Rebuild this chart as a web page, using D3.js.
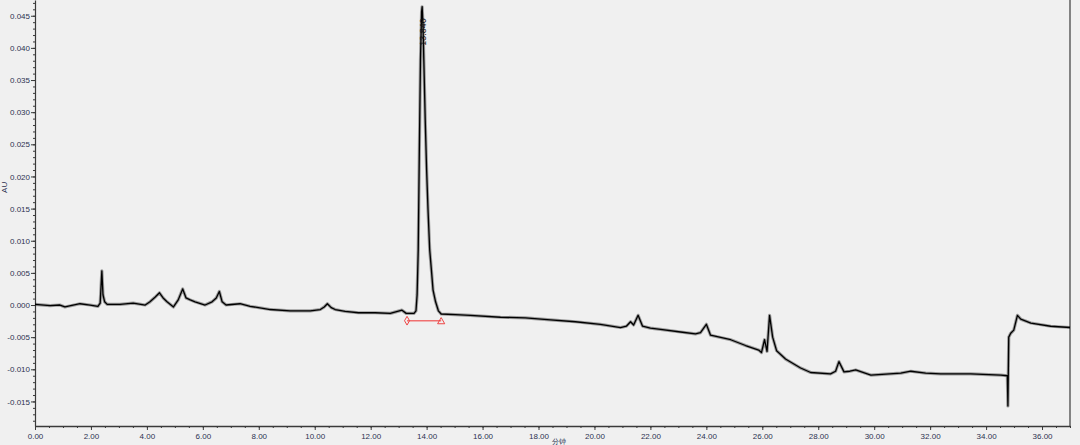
<!DOCTYPE html>
<html>
<head>
<meta charset="utf-8">
<script src="https://cdn.jsdelivr.net/npm/d3@7"></script>
<style>
  html, body { margin: 0; padding: 0; background: #f0f0f0; }
  svg { display: block; }
  text { font-family: "Liberation Sans", Arial, sans-serif; }
</style>
</head>
<body>
<svg id="chart" width="1080" height="445"></svg>
<script>
// ---- data ----
const timeMin = [
  0.00, 0.54, 0.89, 1.07, 1.61, 1.97, 2.25, 2.33, 2.39, 2.43, 2.49, 2.58,
  3.04, 3.51, 3.94, 4.11, 4.29, 4.45, 4.58, 4.72, 4.95, 5.12, 5.28, 5.40,
  5.55, 5.72, 6.08, 6.33, 6.48, 6.59, 6.69, 6.83, 7.33, 7.69, 8.41, 9.12,
  9.84, 10.20, 10.34, 10.45, 10.59, 10.73, 11.09, 11.56, 12.16, 12.70, 13.12, 13.27,
  13.55, 13.62, 13.66, 13.70, 13.74, 13.78, 13.82, 13.84, 13.87, 13.90, 13.95, 14.00,
  14.05, 14.11, 14.17, 14.23, 14.32, 14.42, 14.52, 15.03, 15.56, 16.64, 17.53, 18.43,
  19.32, 20.21, 20.93, 21.14, 21.29, 21.40, 21.56, 21.72, 22.00, 22.36, 23.08, 23.61,
  23.79, 24.00, 24.15, 24.87, 25.40, 25.87, 25.97, 26.08, 26.17, 26.26, 26.37, 26.51,
  26.83, 27.37, 27.73, 28.44, 28.62, 28.74, 28.92, 29.13, 29.34, 29.88, 30.95, 31.31,
  31.84, 32.38, 33.45, 34.53, 34.76, 34.78, 34.81, 34.88, 34.99, 35.12, 35.24, 35.60,
  36.31, 37.00
];
const absorbanceAU = [
  0.0001, -0.0001, 0.0000, -0.0003, 0.0002, 0.0000, -0.0002, 0.0003, 0.0053, 0.0016, 0.0005, 0.0001,
  0.0001, 0.0003, 0.0000, 0.0005, 0.0012, 0.0019, 0.0011, 0.0005, -0.0003, 0.0008, 0.0025, 0.0011,
  0.0008, 0.0005, 0.0000, 0.0005, 0.0011, 0.0021, 0.0005, 0.0000, 0.0002, -0.0002, -0.0007, -0.0009,
  -0.0009, -0.0007, -0.0003, 0.0002, -0.0004, -0.0007, -0.0010, -0.0012, -0.0012, -0.0013, -0.0008, -0.0013,
  -0.0013, -0.0009, 0.0016, 0.0086, 0.0241, 0.0381, 0.0456, 0.0464, 0.0436, 0.0381, 0.0288, 0.0210,
  0.0148, 0.0086, 0.0055, 0.0023, 0.0005, -0.0009, -0.0014, -0.0015, -0.0016, -0.0019, -0.0020, -0.0023,
  -0.0026, -0.0030, -0.0035, -0.0033, -0.0026, -0.0031, -0.0016, -0.0033, -0.0036, -0.0038, -0.0042, -0.0045,
  -0.0043, -0.0030, -0.0047, -0.0054, -0.0063, -0.0070, -0.0074, -0.0054, -0.0072, -0.0016, -0.0050, -0.0071,
  -0.0084, -0.0098, -0.0105, -0.0107, -0.0103, -0.0088, -0.0104, -0.0103, -0.0101, -0.0109, -0.0106, -0.0103,
  -0.0106, -0.0107, -0.0107, -0.0109, -0.0110, -0.0157, -0.0050, -0.0044, -0.0039, -0.0016, -0.0022, -0.0028,
  -0.0033, -0.0035
];
const peakRetention = [13.84];
const peakLabels = ["13.840"];
const peakApexAU = [0.0464];
const integrationStart = [13.30];
const integrationEnd = [14.52];
const integrationLevelAU = [-0.00244];

const xMajorTicks = [0, 2, 4, 6, 8, 10, 12, 14, 16, 18, 20, 22, 24, 26, 28, 30, 32, 34, 36];
const xTickLabels = ["0.00","2.00","4.00","6.00","8.00","10.00","12.00","14.00","16.00","18.00",
                     "20.00","22.00","24.00","26.00","28.00","30.00","32.00","34.00","36.00"];
const yMajorTicks = [-0.015, -0.010, -0.005, 0.000, 0.005, 0.010, 0.015, 0.020, 0.025, 0.030, 0.035, 0.040, 0.045];
const yTickLabels = ["-0.015","-0.010","-0.005","0.000","0.005","0.010","0.015","0.020","0.025","0.030","0.035","0.040","0.045"];
const xAxisTitle = "分钟";
const yAxisTitle = "AU";

// ---- layout ----
const plotLeft = 35, plotRight = 1070, plotTop = 0, plotBottom = 426;
const svg = d3.select("#chart");

const x = d3.scaleLinear().domain([0, 37]).range([plotLeft, plotRight]);
const y = d3.scaleLinear().domain([-0.01882, 0.04745]).range([plotBottom, plotTop]);

const axisColor = "#3a3a3a";
const labelColor = "#2d3250";

// minor ticks
const xMinor = d3.range(0, 37.001, 0.5);
const yMinor = d3.range(-18, 48, 1).map(d => d / 1000);

svg.append("g").attr("transform", `translate(0,${plotBottom})`)
  .call(d3.axisBottom(x).tickValues(xMinor).tickSize(2).tickSizeOuter(0).tickFormat(""))
  .call(g => g.select(".domain").remove())
  .call(g => g.selectAll("line").attr("stroke", axisColor));

svg.append("g").attr("transform", `translate(${plotLeft},0)`)
  .call(d3.axisLeft(y).tickValues(yMinor).tickSize(2).tickSizeOuter(0).tickFormat(""))
  .call(g => g.select(".domain").remove())
  .call(g => g.selectAll("line").attr("stroke", axisColor));

// major axes
const xAxis = svg.append("g").attr("transform", `translate(0,${plotBottom})`)
  .call(d3.axisBottom(x).tickValues(xMajorTicks).tickSize(4).tickSizeOuter(0)
        .tickPadding(3).tickFormat((d, i) => xTickLabels[i]));
xAxis.select(".domain").attr("stroke", axisColor).attr("stroke-width", 1.5);
xAxis.selectAll("line").attr("stroke", axisColor);
xAxis.selectAll("text").attr("fill", labelColor).style("font-size", "8px");

const yAxis = svg.append("g").attr("transform", `translate(${plotLeft},0)`)
  .call(d3.axisLeft(y).tickValues(yMajorTicks).tickSize(4).tickSizeOuter(0)
        .tickPadding(1).tickFormat((d, i) => yTickLabels[i]));
yAxis.select(".domain").attr("stroke", axisColor).attr("stroke-width", 1.2);
yAxis.selectAll("line").attr("stroke", axisColor);
yAxis.selectAll("text").attr("fill", labelColor).style("font-size", "8px");

// right border
svg.append("line")
  .attr("x1", x(37)).attr("x2", x(37))
  .attr("y1", y.range()[1]).attr("y2", y.range()[0])
  .attr("stroke", axisColor).attr("stroke-width", 1.2);

// axis titles
svg.append("text")
  .attr("transform", `translate(7,${y(0.0183)}) rotate(-90)`)
  .attr("text-anchor", "middle")
  .attr("fill", labelColor).style("font-size", "8px")
  .text(yAxisTitle);
svg.append("text")
  .attr("x", x(18.75)).attr("y", 444)
  .attr("text-anchor", "middle")
  .attr("fill", labelColor).style("font-size", "7px")
  .text(xAxisTitle);

// trace
const pts = timeMin.map((t, i) => [t, absorbanceAU[i]]);
const line = d3.line().x(d => x(d[0])).y(d => y(d[1]));
svg.append("path").datum(pts).attr("d", line)
  .attr("fill", "none").attr("stroke", "#000").attr("stroke-opacity", 0.35)
  .attr("stroke-width", 3.2).attr("stroke-linejoin", "round");
svg.append("path").datum(pts).attr("d", line)
  .attr("fill", "none").attr("stroke", "#000")
  .attr("stroke-width", 1.3).attr("stroke-linejoin", "round");

// integration baseline
const red = "#ee4444";
svg.append("line")
  .attr("x1", x(integrationStart[0])).attr("x2", x(integrationEnd[0]))
  .attr("y1", y(integrationLevelAU[0])).attr("y2", y(integrationLevelAU[0]))
  .attr("stroke", "#f07070").attr("stroke-width", 1.5);
svg.append("path")
  .attr("d", d3.symbol().type(d3.symbolDiamond).size(22)())
  .attr("transform", `translate(${x(integrationStart[0])},${y(integrationLevelAU[0])})`)
  .attr("fill", "none").attr("stroke", red).attr("stroke-width", 1);
svg.append("path")
  .attr("d", d3.symbol().type(d3.symbolTriangle).size(22)())
  .attr("transform", `translate(${x(integrationEnd[0])},${y(integrationLevelAU[0]) + 1})`)
  .attr("fill", "none").attr("stroke", red).attr("stroke-width", 1);

// peak label
peakRetention.forEach((rt, i) => {
  svg.append("text")
    .attr("transform", `translate(${x(rt) + 3.5},${y(peakApexAU[i]) + 39}) rotate(-90)`)
    .attr("fill", "#111").style("font-size", "9px")
    .text(peakLabels[i]);
});
</script>
</body>
</html>
